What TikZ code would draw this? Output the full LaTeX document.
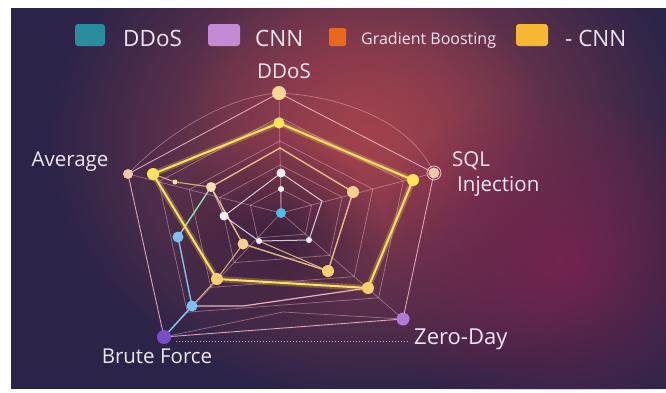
\documentclass[tikz,border=0pt]{standalone}
\usepackage{fontspec}
\setmainfont{Open Sans}
\usetikzlibrary{calc,fadings}

\definecolor{bgbase}{HTML}{2C2448}
\definecolor{bgglow}{HTML}{A2424E}
\definecolor{bgmag}{HTML}{72244E}
\definecolor{bgdark}{HTML}{2A1A3A}
\definecolor{labeltext}{HTML}{EEE6F0}
\definecolor{gridpink}{HTML}{EDB2C2}
\definecolor{webyellow}{HTML}{FFE35C}
\definecolor{webpeach}{HTML}{F4C890}
\definecolor{webwhite}{HTML}{F2E6F2}
\definecolor{webblue}{HTML}{7FC2F0}
\definecolor{webgreen}{HTML}{8EE0A8}
\definecolor{keyteal}{HTML}{2A8C9C}
\definecolor{keylilac}{HTML}{C48AD8}
\definecolor{keyorange}{HTML}{E8691E}
\definecolor{keyyellow}{HTML}{F6B832}

\tikzfading[name=glowfade, inner color=transparent!0, outer color=transparent!100]

\begin{document}
\begin{tikzpicture}[x=1pt,y=-1pt,
    label/.style={text=labeltext,font=\fontsize{20.5}{24}\selectfont,inner sep=0pt},
    keytext/.style={text=labeltext,font=\fontsize{22.5}{26}\selectfont,inner sep=0pt,anchor=base west},
    gridline/.style={gridpink,opacity=0.5,line width=0.7pt},
    dot/.style={circle,inner sep=0pt,minimum size=#1},
    keybox/.style={rounded corners=3pt}]

    % background
    \useasboundingbox (0,0) rectangle (666,392);
    \fill[white] (0,0) rectangle (666,392);
    \fill[bgbase] (11,8) rectangle (666,389);
    \begin{scope}
        \clip (11,8) rectangle (666,389);
        \fill[bgglow,path fading=glowfade] (370,140) ellipse [x radius=320pt, y radius=260pt];
        \fill[bgglow,path fading=glowfade,opacity=0.6] (360,110) ellipse [x radius=180pt, y radius=140pt];
        \fill[bgmag,path fading=glowfade] (560,260) ellipse [x radius=190pt, y radius=170pt];
        \fill[bgdark,path fading=glowfade,opacity=0.7] (275,235) ellipse [x radius=110pt, y radius=95pt];
    \end{scope}

    % web points
    \coordinate (o) at (281,213);
    \foreach \n/\x/\y in {d1/279/93,s1/434/173,z1/403/319,b1/164/337,a1/128/174,
        d2/279/123,s2/413/180,z2/368/288,b2/217/279,a2/153/174,
        d3/280/148,s3/353/192,z3/328/271,b3/243/244,a3/211/187,
        d4/281/173,s4/322/201,z4/309/240,b4/259/241,a4/224/216,
        d5/281/189,t1/178/237,t2/192/306,k1/243/306,a5/175/182,
        dotl/176/341,dotr/408/341}
    {
        \coordinate (\n) at (\x,\y);
    }

    % grid and spokes
    \foreach \f in {0.2,0.4,0.6,0.8}
    {
        \draw[gridline] ($(o)!\f!(d1)$)--($(o)!\f!(s1)$)--($(o)!\f!(z1)$)--($(o)!\f!(b1)$)--($(o)!\f!(a1)$)--cycle;
    }
    \foreach \v in {d1,s1,z1,b1,a1}
    {
        \draw[gridline] (o)--(\v);
    }
    \draw[gridline] (a1) .. controls (170,130) and (230,96) .. (d1);
    \draw[gridline] (d1) .. controls (340,96) and (410,120) .. (s1);
    \draw[gridline] (b1)--(283,312)--(z1);

    % series
    \draw[gridpink,line width=0.9pt,opacity=0.9] (d1)--(s1)--(z1)--(b1)--(a1)--cycle;
    \draw[webpeach,line width=1.4pt,opacity=0.9] (d3)--(s3)--(z3)--(b3)--(a3)--cycle;
    \draw[webpeach,line width=1.1pt,opacity=0.8] (a2)--(a5)--(a3) (b3)--(b2)--(t2) (z3)--(b4);
    \draw[webwhite,line width=1pt,opacity=0.85] (d4)--(s4)--(z4)--(b4)--(a4)--cycle;
    \draw[webwhite,line width=0.8pt,opacity=0.6] (d5)--(o) (a4)--(a3);
    \draw[webgreen,line width=1.4pt] (a3)--(t1);
    \draw[webblue,line width=1.4pt] (t1)--(t2)--(b1);
    \draw[gridpink,line width=1.2pt] (t2)--(k1)--(z2);
    \draw[webyellow,line width=6pt,opacity=0.25,line join=round] (d2)--(s2)--(z2)--(b2)--(a2)--cycle;
    \draw[webyellow,line width=2pt,line join=round] (d2)--(s2)--(z2)--(b2)--(a2)--cycle;
    \draw[labeltext,dotted,line width=1pt,opacity=0.75] (dotl)--(dotr);

    % dots
    \foreach \v/\c/\s in {d1/F8D890/14,s1/F0C8A8/11,a1/F0C8A8/10,z1/B07AD8/13,b1/7A4CC8/14,
        d2/FFE35C/11,s2/FFE35C/12,z2/F8D070/12,b2/F8D070/12,a2/FFE35C/12,
        s3/F6D08C/12,z3/F8D070/12,b3/F6D08C/11,a3/F6E0B0/10,
        d4/F4EEF4/9,z4/F4EEF4/6,b4/F4EEF4/6,a4/F4EEF4/9,d5/F4EEF4/6,a5/F6E0B0/5,
        o/4AC0E8/10,t1/80C0F0/11,t2/80C0F0/11}
    {
        \definecolor{dotfill}{HTML}{\c}
        \node[dot=\s,fill=dotfill] at (\v) {};
    }
    \draw[gridpink,line width=0.9pt] (s1) circle [radius=7pt];

    % axis labels
    \node[label,anchor=base] (lbdd) at (284,78) {DDoS};
    \node[label,anchor=base] (lbav) at (70,166) {Average};
    \node[label,anchor=base west] (lbsq) at (452,166) {SQL};
    \node[label,anchor=base west] (lbinj) at (457,191) {Injection};
    \node[label,anchor=base] (lbbf) at (157,363) {Brute Force};
    \node[label,anchor=base west,font=\fontsize{22}{26}\selectfont] (lbzd) at (414,344) {Zero-Day};

    % legend
    \foreach \x/\w/\c in {75/30/keyteal,208/32/keylilac,516/32/keyyellow}
    {
        \fill[keybox,\c] (\x,24) rectangle ++(\w,22);
    }
    \fill[keyorange,rounded corners=1.5pt] (329,28) rectangle (346,46);
    \node[keytext] (kdd) at (123,46) {DDoS};
    \node[keytext] (kcnn) at (255,46) {CNN};
    \node[keytext,font=\fontsize{16}{19}\selectfont] (kgb) at (361,44) {Gradient Boosting};
    \node[keytext] (kcnn2) at (565,46) {- CNN};
\end{tikzpicture}
\end{document}
